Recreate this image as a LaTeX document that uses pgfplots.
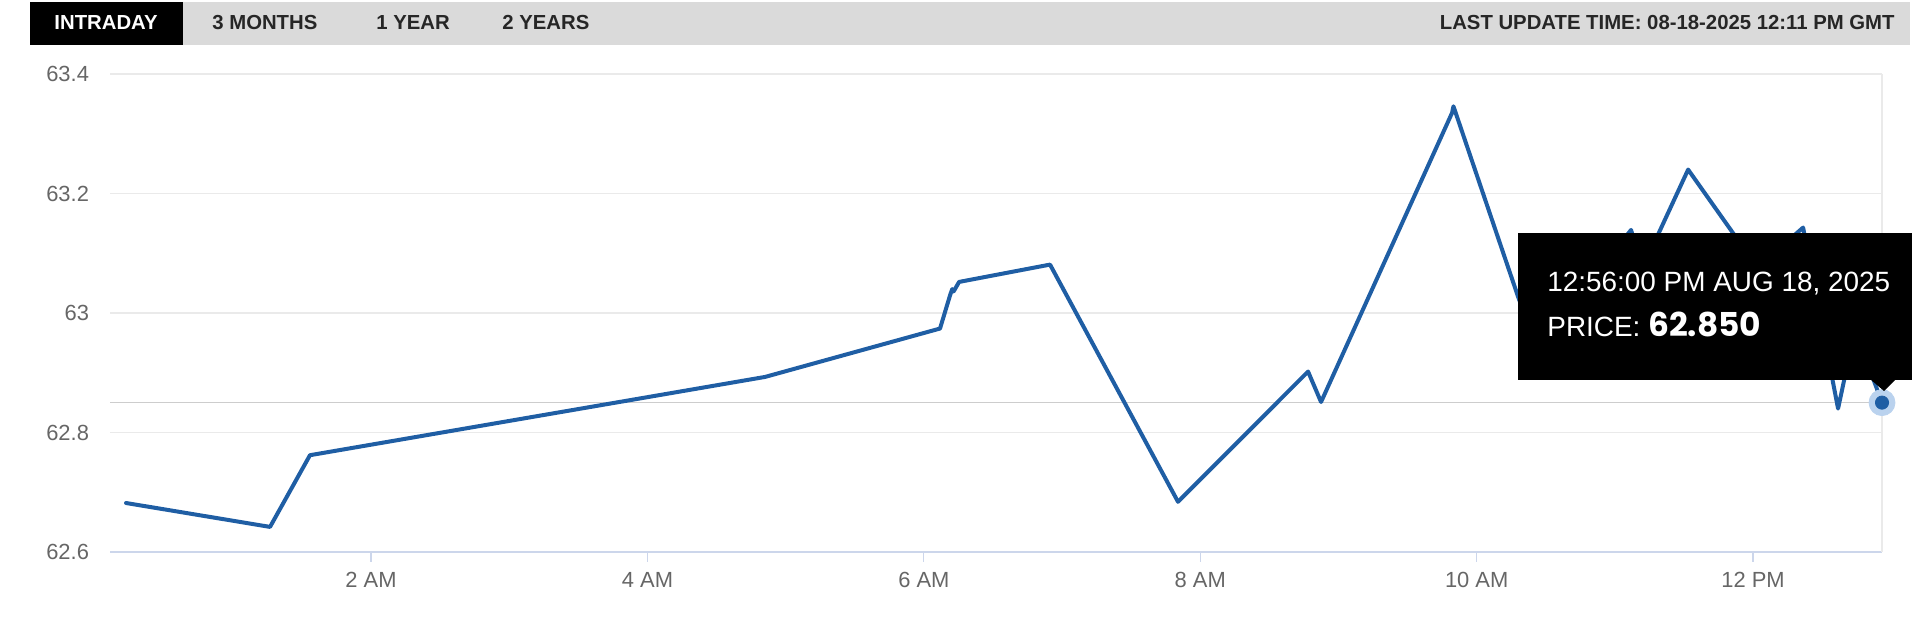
\documentclass[border=0pt]{standalone}
\usepackage{pgfplots}
\pgfplotsset{compat=1.18}
\usepackage{pgfplotstable}
\usepackage{fontspec}
\setmainfont{Liberation Sans}
\newfontfamily\popp{Poppins}
\definecolor{linec}{RGB}{31,94,164}
\definecolor{gridc}{RGB}{234,234,234}
\definecolor{axisc}{RGB}{204,214,235}
\definecolor{tickc}{RGB}{102,102,102}
\definecolor{barc}{RGB}{218,218,218}
\definecolor{crossc}{RGB}{205,205,205}
\definecolor{haloc}{RGB}{186,210,238}

\pgfplotstableread{
h p
0.227 62.682
1.269 62.642
1.558 62.762
4.851 62.893
6.117 62.974
6.190 63.030
6.205 63.040
6.215 63.036
6.255 63.052
6.913 63.081
7.839 62.684
8.780 62.902
8.874 62.851
9.822 63.335
9.832 63.346
10.300 63.027
10.420 62.950
10.650 63.020
10.950 63.090
11.117 63.139
11.200 63.075
11.530 63.240
12.050 63.070
12.200 63.110
12.362 63.143
12.615 62.840
12.675 62.905
12.740 62.925
12.845 62.905
12.933 62.850
}\price

\begin{document}
\begin{tikzpicture}
\path[use as bounding box] (0,0) rectangle (960bp,311bp);
\begin{axis}[
  at={(55bp,35bp)}, anchor=south west,
  scale only axis, width=886bp, height=239bp,
  xmin=0.111, xmax=12.933, ymin=62.6, ymax=63.4,
  axis x line*=bottom, axis y line*=left,
  x axis line style={draw=axisc, line width=0.8bp, -},
  y axis line style={draw=none},
  xtick={2,4,6,8,10,12},
  xticklabels={2 AM,4 AM,6 AM,8 AM,10 AM,12 PM},
  ytick={62.6,62.8,63,63.2,63.4},
  yticklabels={62.6,62.8,63,63.2,63.4},
  tick align=outside, major tick length=5bp,
  xtick style={draw=axisc, line width=0.6bp},
  ytick style={draw=none},
  ymajorgrids, grid style={draw=gridc, line width=0.8bp},
  tick label style={font=\fontsize{11}{13}\selectfont, text=tickc},
  xticklabel style={yshift=-1.5bp},
  yticklabel style={xshift=-2bp},
  clip=false,
]
\addplot[draw=crossc, line width=0.8bp] coordinates {(0.111,62.85) (12.933,62.85)};
\addplot[draw=gridc, line width=0.8bp] coordinates {(12.933,62.6) (12.933,63.4)};
\addplot[draw=linec, line width=2bp, line join=round, line cap=round, mark=none] table[x=h,y=p] {\price};
\addplot[only marks, color=haloc, mark=*, mark size=6.5bp, mark options={fill=haloc, draw=haloc}] coordinates {(12.933,62.85)};
\addplot[only marks, color=linec, mark=*, mark size=3.3bp, mark options={fill=linec, draw=linec}] coordinates {(12.933,62.85)};
\end{axis}
% tooltip
\fill[black] (759bp,121bp) rectangle (956bp,194.5bp);
\fill[black] (935bp,121.5bp) -- (948bp,121.5bp) -- (942bp,115.5bp) -- cycle;
\node[anchor=base west, inner sep=0, text=white, font=\fontsize{14}{16}\selectfont] at (773.5bp,165bp) {12:56:00 PM AUG 18, 2025};
\node[anchor=base west, inner sep=0, text=white, font=\fontsize{14}{16}\selectfont] at (773.5bp,142.5bp) {PRICE: {\popp\bfseries\fontsize{16.5}{18}\selectfont 62.850}};
% top bar
\fill[barc] (15bp,288.5bp) rectangle (955bp,310bp);
\fill[black] (15bp,288.5bp) rectangle (91.5bp,310bp);
\begin{scope}[font=\fontsize{10.2}{12}\selectfont\bfseries]
\node[anchor=base, inner sep=0, text=white] at (53bp,296bp) {INTRADAY};
\node[anchor=base west, inner sep=0, text=black!85] at (106bp,296bp) {3 MONTHS};
\node[anchor=base west, inner sep=0, text=black!85] at (188bp,296bp) {1 YEAR};
\node[anchor=base west, inner sep=0, text=black!85] at (251bp,296bp) {2 YEARS};
\node[anchor=base east, inner sep=0, text=black!85] at (947.5bp,296bp) {LAST UPDATE TIME: 08-18-2025 12:11 PM GMT};
\end{scope}
\end{tikzpicture}
\end{document}
